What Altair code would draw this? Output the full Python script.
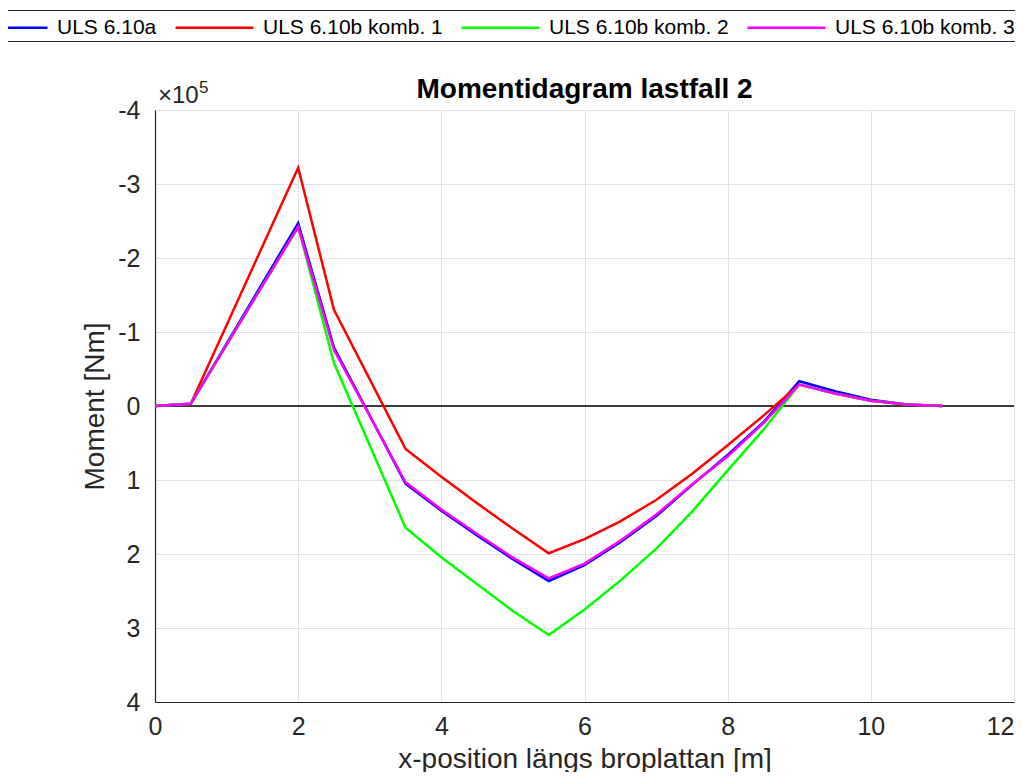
import altair as alt
import pandas as pd

# x-positions along the bridge slab [m]
x_pos = [0, 0.5, 2, 2.5, 3.5, 4, 4.5, 5, 5.5, 6, 6.5, 7, 7.5, 8, 8.5, 9, 9.5, 10, 10.5, 11]

# Moments in units of 1e5 Nm (positive drawn downward)
uls_610a = [0, -0.03, -2.47, -0.79, 1.05, 1.415, 1.75, 2.07, 2.365, 2.15, 1.84, 1.49, 1.07, 0.66, 0.22, -0.335, -0.20, -0.085, -0.02, 0]
uls_610b_k1 = [0, -0.03, -3.22, -1.30, 0.58, 0.955, 1.315, 1.66, 1.99, 1.80, 1.56, 1.27, 0.92, 0.53, 0.13, -0.29, -0.17, -0.07, -0.02, 0]
uls_610b_k2 = [0, -0.03, -2.42, -0.58, 1.645, 2.045, 2.41, 2.77, 3.095, 2.75, 2.36, 1.93, 1.43, 0.87, 0.32, -0.29, -0.17, -0.07, -0.02, 0]
uls_610b_k3 = [0, -0.03, -2.42, -0.76, 1.03, 1.40, 1.73, 2.05, 2.33, 2.13, 1.82, 1.47, 1.06, 0.68, 0.23, -0.29, -0.17, -0.07, -0.02, 0]

series_names = ["ULS 6.10a", "ULS 6.10b komb. 1", "ULS 6.10b komb. 2", "ULS 6.10b komb. 3"]
series_colors = ["#0000ff", "#ff0000", "#00ff00", "#ff00ff"]
series_values = [uls_610a, uls_610b_k1, uls_610b_k2, uls_610b_k3]

x_ticks = [0, 2, 4, 6, 8, 10, 12]
y_ticks = [-4, -3, -2, -1, 0, 1, 2, 3, 4]

chart_title = "Momentidagram lastfall 2"

rows = []
for name, vals in zip(series_names, series_values):
    for xv, mv in zip(x_pos, vals):
        rows.append({"x": xv, "moment": mv, "serie": name})
df = pd.DataFrame(rows)

FONT = "Liberation Sans"
W, H = 859, 592

x_enc = alt.X(
    "x:Q",
    scale=alt.Scale(domain=[0, 12], nice=False, zero=False),
    axis=alt.Axis(values=x_ticks, title="x-position längs broplattan [m]",
                  labelPadding=12, titlePadding=6, format="d", labelFlush=False,
                  labelAlign={"condition": {"test": "datum.value == 12", "value": "right"},
                              "value": "center"}),
)
y_enc = alt.Y(
    "moment:Q",
    scale=alt.Scale(domain=[-4, 4], reverse=True, nice=False, zero=False),
    axis=alt.Axis(values=y_ticks, title="Moment [Nm]", labelPadding=15, titlePadding=8,
                  labelFlush=False,
                  labelExpr="datum.value < 0 ? '-' + abs(datum.value) : '' + datum.value"),
)

zero_line = alt.Chart(pd.DataFrame({"moment": [0]})).mark_rule(
    color="black", strokeWidth=1.6
).encode(y=alt.Y("moment:Q"))

lines = alt.Chart(df).mark_line(strokeWidth=2.5, clip=True).encode(
    x=x_enc,
    y=y_enc,
    color=alt.Color(
        "serie:N",
        scale=alt.Scale(domain=series_names, range=series_colors),
        legend=alt.Legend(
            orient="none", legendX=-190, legendY=-100, direction="horizontal",
            columns=4, title=None, symbolType="M-1,0H5", symbolSize=676,
            symbolStrokeWidth=2.3, labelFontSize=21, labelFont=FONT,
            labelColor="black", labelOffset=60, columnPadding=13, padding=3,
            strokeColor="#262626", fillColor="white", cornerRadius=0, labelLimit=0,
        ),
    ),
)

title_text = alt.Chart(pd.DataFrame({"t": [chart_title]})).mark_text(
    align="center", baseline="alphabetic", fontSize=28, fontWeight="bold",
    font=FONT, color="black"
).encode(text="t:N", x=alt.value(W / 2), y=alt.value(-12))

exp_base = alt.Chart(pd.DataFrame({"t": ["×10"]})).mark_text(
    align="left", baseline="alphabetic", fontSize=24, font=FONT, color="#262626"
).encode(text="t:N", x=alt.value(3), y=alt.value(-7))
exp_sup = alt.Chart(pd.DataFrame({"t": ["5"]})).mark_text(
    align="left", baseline="alphabetic", fontSize=17, font=FONT, color="#262626"
).encode(text="t:N", x=alt.value(44), y=alt.value(-17))

chart = alt.layer(zero_line, lines, title_text, exp_base, exp_sup).properties(
    width=W,
    height=H,
    autosize=alt.AutoSizeParams(type="none"),
    padding={"left": 147, "top": 102, "right": 1, "bottom": 70},
).configure_view(stroke=None).configure_axis(
    grid=True, gridColor="#e1e1e1", gridWidth=1,
    domainColor="#262626", domainWidth=1.2,
    tickSize=0,
    labelFont=FONT, labelFontSize=25, labelColor="#262626",
    titleFont=FONT, titleFontSize=28, titleColor="#262626", titleFontWeight="normal",
)

chart.save("out.html", embed_options={"renderer": "svg", "actions": False})
